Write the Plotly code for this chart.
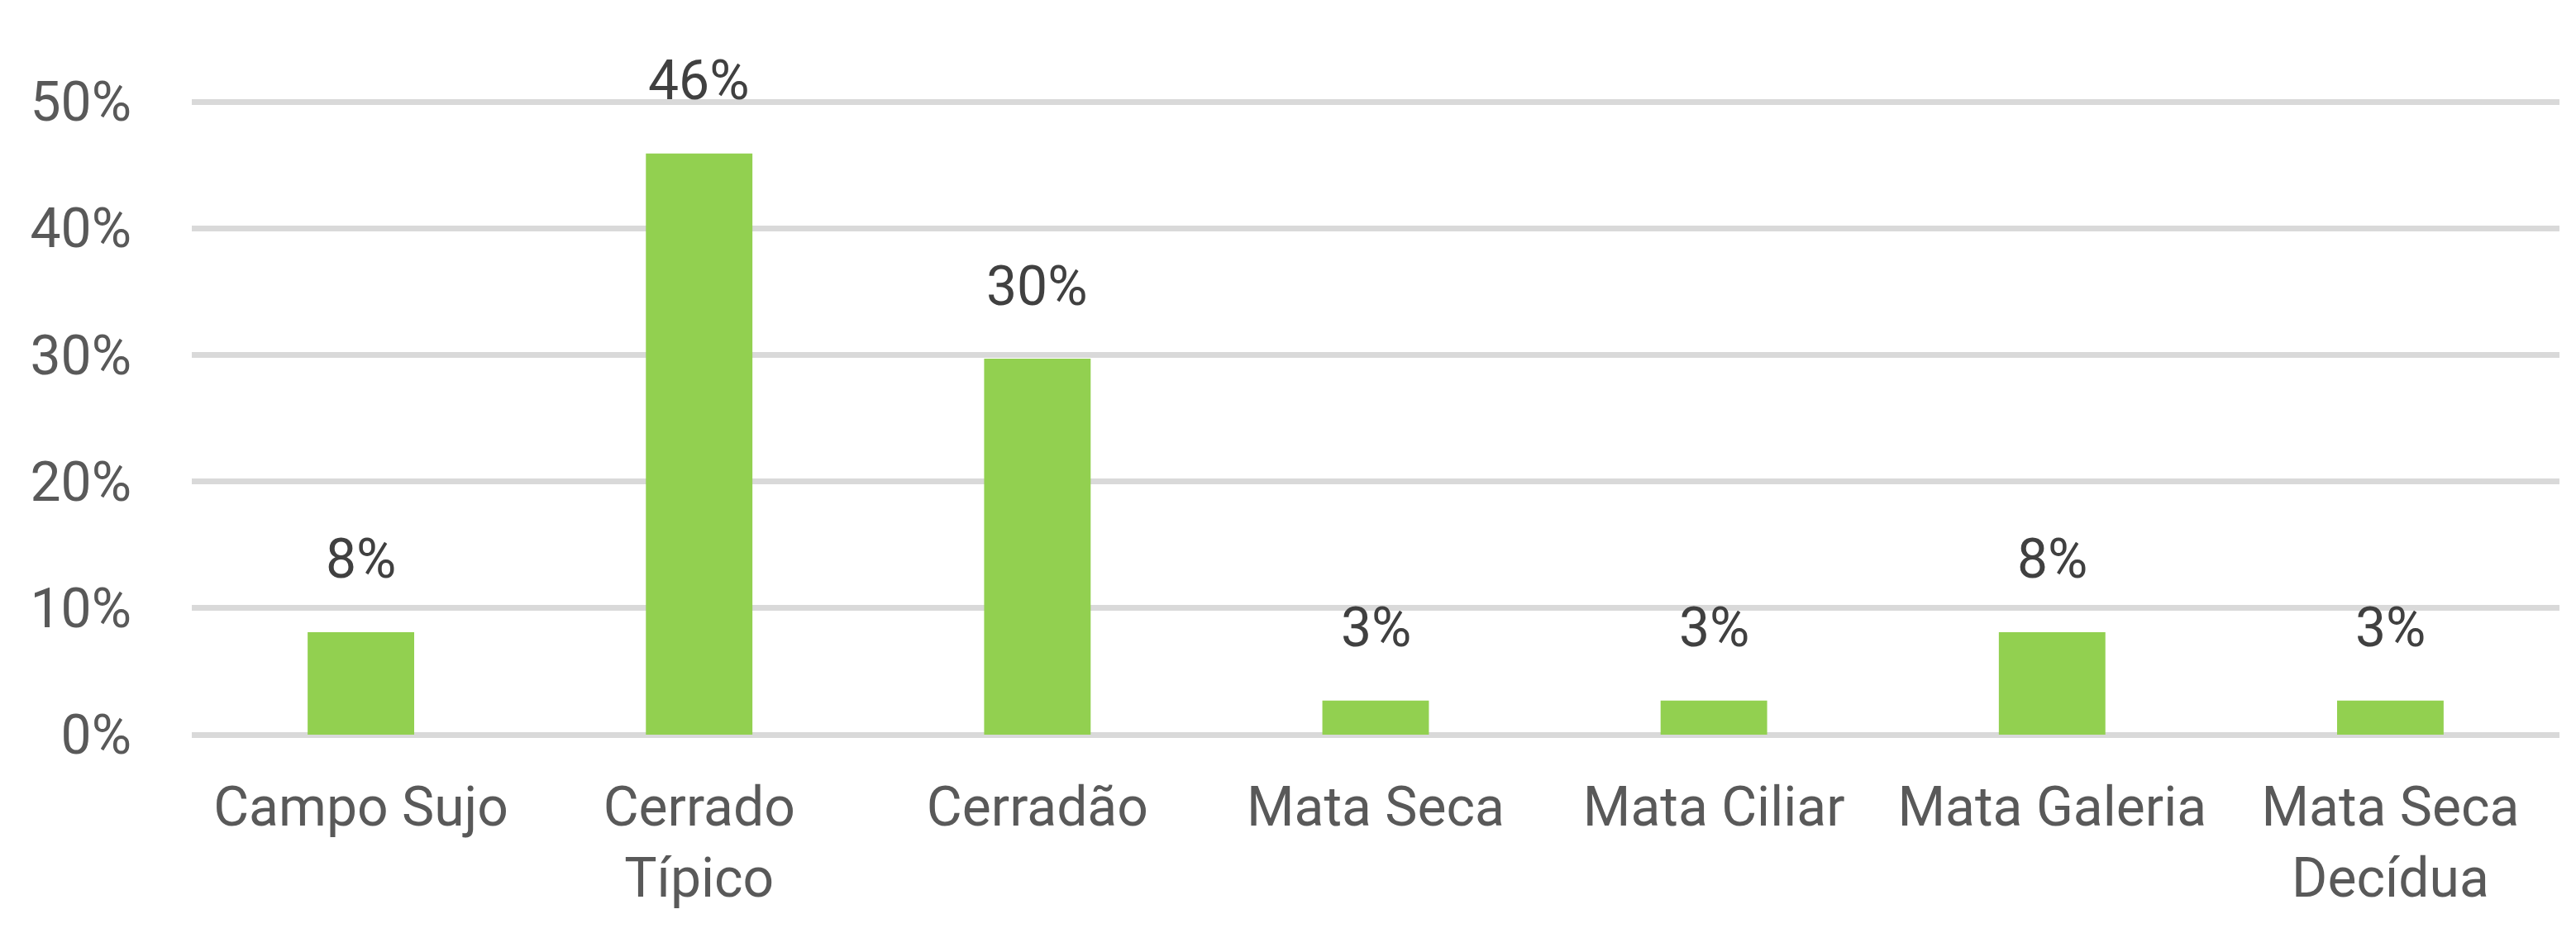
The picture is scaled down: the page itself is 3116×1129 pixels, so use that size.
import plotly.graph_objects as go

categories = ["Campo Sujo", "Cerrado<br>Típico", "Cerradão", "Mata Seca",
              "Mata Ciliar", "Mata Galeria", "Mata Seca<br>Decídua"]
values = [0.081, 0.459, 0.297, 0.027, 0.027, 0.081, 0.027]
labels = [f"{v:.0%}" for v in values]

FONT = "Roboto, Open Sans, sans-serif"

fig = go.Figure()
fig.add_trace(go.Bar(x=categories, y=values, marker=dict(color="#92D050", line=dict(width=0)),
                     hoverinfo="skip"))

for c, v, t in zip(categories, values, labels):
    fig.add_annotation(x=c, y=v, text=t, showarrow=False, yanchor="middle", yshift=88,
                       font=dict(family=FONT, size=66, color="#404040"))

fig.update_layout(
    width=3116, height=1129,
    margin=dict(l=224, r=28, t=110, b=248),
    plot_bgcolor="white", paper_bgcolor="white",
    bargap=0.685, showlegend=False,
)
fig.update_xaxes(
    automargin=False,
    showline=False, showgrid=False, ticks="outside", ticklen=0,
    ticklabelstandoff=30,
    tickfont=dict(family=FONT, size=66, color="#595959"),
)
fig.update_yaxes(
    automargin=False,
    range=[0, 0.5033], tickvals=[0, 0.1, 0.2, 0.3, 0.4, 0.5], tickformat=".0%",
    showgrid=True, gridcolor="#D9D9D9", gridwidth=7,
    zeroline=True, zerolinecolor="#D9D9D9", zerolinewidth=7,
    showline=False, ticks="", ticklabelstandoff=72,
    tickfont=dict(family=FONT, size=66, color="#595959"),
)

fig.write_html("out.html")
